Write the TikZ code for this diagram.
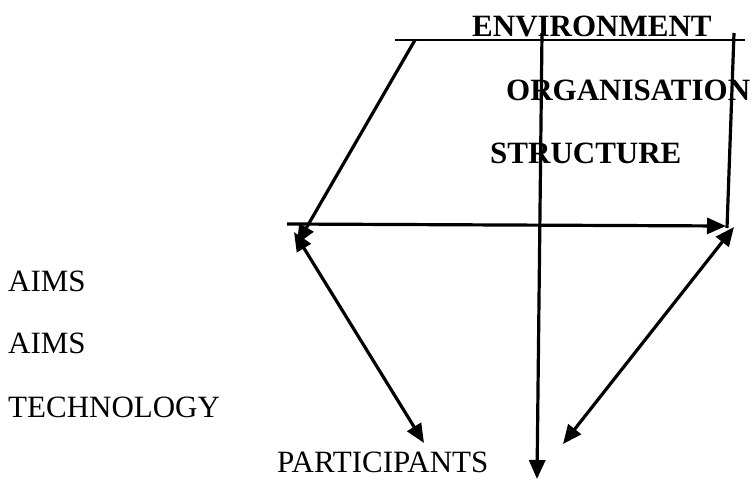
\documentclass[tikz,border=0pt]{standalone}
\usepackage{fontspec}
\setmainfont{Liberation Serif}
\usetikzlibrary{arrows.meta}
\tikzset{
  lbl/.style={anchor=base west, inner sep=0pt, font=\fontsize{31}{36}\selectfont},
  hdr/.style={lbl, font=\fontsize{31}{36}\selectfont\bfseries},
  arr/.style={-{Triangle[length=19pt,width=16pt]}, line width=3.2pt},
  darr/.style={{Triangle[length=19pt,width=16pt]}-{Triangle[length=19pt,width=16pt]}, line width=3.2pt},
  plain/.style={line width=3.2pt},
}
\begin{document}
\begin{tikzpicture}[x=1pt,y=-1pt]
  \useasboundingbox (0,0) rectangle (755,480);

  % Labels
  \node[hdr] (env)  at (472,36)  {ENVIRONMENT};
  \node[hdr] (org)  at (506,100) {ORGANISATION};
  \node[hdr] (str)  at (490,163) {STRUCTURE};
  \node[lbl] (aimA) at (8,291)   {AIMS};
  \node[lbl] (aimB) at (8,353)   {AIMS};
  \node[lbl] (tech) at (8,417)   {TECHNOLOGY};
  \node[lbl] (part) at (277,472) {PARTICIPANTS};

  % Line ends
  \coordinate (topL)  at (395,40);
  \coordinate (topR)  at (745,40);
  \coordinate (slant) at (415,40);
  \coordinate (midT)  at (542,33);
  \coordinate (midB)  at (537,479);
  \coordinate (rgtT)  at (734,33);
  \coordinate (rgtB)  at (727,228);
  \coordinate (barL)  at (287,224);
  \coordinate (barR)  at (726,226);
  \coordinate (cnrL)  at (297,244);
  \coordinate (legL)  at (294,232);
  \coordinate (ftL)   at (424,443);
  \coordinate (legR)  at (734,227);
  \coordinate (ftR)   at (563,444);

  % Top rule
  \draw[line width=2.2pt] (topL) -- (topR);

  % Connectors
  \draw[arr]   (slant) -- (cnrL);
  \draw[arr]   (barL) -- (barR);
  \draw[plain] (rgtT) -- (rgtB);
  \draw[arr]   (midT) -- (midB);
  \draw[darr]  (legL) -- (ftL);
  \draw[darr]  (legR) -- (ftR);
\end{tikzpicture}
\end{document}
